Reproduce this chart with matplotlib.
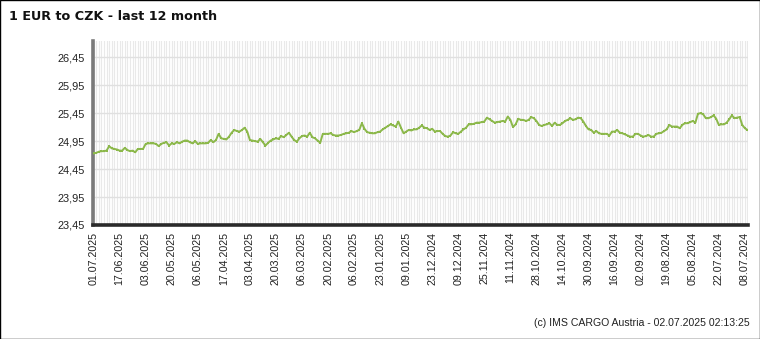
import matplotlib
matplotlib.use("Agg")
import matplotlib.pyplot as plt
from matplotlib.patches import Rectangle
from matplotlib.ticker import FixedLocator, MultipleLocator, FuncFormatter

# newest date on the left, one value per ECB business day
rates = [
    24.73, 24.74, 24.76, 24.77, 24.77, 24.78, 24.86, 24.82, 24.81, 24.80,
    24.78, 24.78, 24.83, 24.79, 24.77, 24.78, 24.75, 24.81, 24.81, 24.81,
    24.90, 24.91, 24.91, 24.91, 24.90, 24.86, 24.90, 24.92, 24.93, 24.87,
    24.91, 24.90, 24.93, 24.91, 24.94, 24.96, 24.96, 24.93, 24.91, 24.95,
    24.90, 24.91, 24.91, 24.91, 24.92, 24.97, 24.93, 24.97, 25.08, 25.00,
    24.99, 24.98, 25.03, 25.10, 25.15, 25.13, 25.12, 25.15, 25.19, 25.12,
    24.97, 24.96, 24.95, 24.94, 24.99, 24.93, 24.87, 24.92, 24.96, 24.98,
    25.00, 24.99, 25.04, 25.02, 25.06, 25.10, 25.03, 24.97, 24.94, 25.00,
    25.04, 25.05, 25.03, 25.10, 25.02, 25.00, 24.96, 24.92, 25.08, 25.08,
    25.08, 25.09, 25.06, 25.05, 25.05, 25.06, 25.08, 25.09, 25.10, 25.13,
    25.11, 25.13, 25.15, 25.27, 25.17, 25.11, 25.10, 25.09, 25.09, 25.11,
    25.12, 25.16, 25.19, 25.22, 25.25, 25.23, 25.21, 25.30, 25.19, 25.09,
    25.12, 25.15, 25.14, 25.16, 25.16, 25.19, 25.23, 25.19, 25.18, 25.15,
    25.17, 25.12, 25.13, 25.13, 25.08, 25.04, 25.03, 25.05, 25.11, 25.09,
    25.08, 25.12, 25.16, 25.19, 25.25, 25.25, 25.26, 25.28, 25.28, 25.29,
    25.30, 25.37, 25.34, 25.31, 25.28, 25.29, 25.30, 25.31, 25.30, 25.39,
    25.33, 25.20, 25.25, 25.35, 25.33, 25.33, 25.31, 25.33, 25.38, 25.36,
    25.31, 25.24, 25.22, 25.24, 25.25, 25.27, 25.22, 25.28, 25.24, 25.24,
    25.27, 25.31, 25.33, 25.36, 25.33, 25.34, 25.37, 25.36, 25.30, 25.22,
    25.16, 25.15, 25.10, 25.13, 25.09, 25.08, 25.08, 25.08, 25.05, 25.12,
    25.12, 25.15, 25.10, 25.09, 25.07, 25.05, 25.03, 25.03, 25.08, 25.08,
    25.05, 25.03, 25.04, 25.06, 25.03, 25.03, 25.08, 25.09, 25.10, 25.13,
    25.16, 25.24, 25.21, 25.21, 25.21, 25.18, 25.24, 25.27, 25.27, 25.29,
    25.31, 25.28, 25.44, 25.45, 25.43, 25.36, 25.36, 25.38, 25.41, 25.35,
    25.24, 25.25, 25.25, 25.28, 25.34, 25.41, 25.36, 25.37, 25.38, 25.24,
    25.18, 25.15,
]

date_labels = [
    "01.07.2025", "17.06.2025", "03.06.2025", "20.05.2025", "06.05.2025",
    "17.04.2025", "03.04.2025", "20.03.2025", "06.03.2025", "20.02.2025",
    "06.02.2025", "23.01.2025", "09.01.2025", "23.12.2024", "09.12.2024",
    "25.11.2024", "11.11.2024", "28.10.2024", "14.10.2024", "30.09.2024",
    "16.09.2024", "02.09.2024", "19.08.2024", "05.08.2024", "22.07.2024",
    "08.07.2024",
]
label_step = 10
y_ticks = [23.45, 23.95, 24.45, 24.95, 25.45, 25.95, 26.45]

title = "1 EUR to CZK - last 12 month"
footer = "(c) IMS CARGO Austria - 02.07.2025 02:13:25"

plt.rcParams["font.family"] = ["Liberation Sans", "DejaVu Sans"]

fig = plt.figure(figsize=(7.6, 3.39), dpi=100)
ax = fig.add_axes([0.1224, 0.3363, 0.8618, 0.5427])

xs = list(range(len(rates)))
ax.plot(xs, rates, color="#8cb84b", linewidth=1.4, marker="s",
        markersize=2.0, markeredgewidth=0, zorder=3)

ax.set_xlim(-0.2, len(rates) - 0.8)
ax.set_ylim(23.45, 26.74)

# one light vertical line per business day, labels every 10 days
ax.xaxis.set_minor_locator(MultipleLocator(1))
ax.xaxis.set_major_locator(FixedLocator([i * label_step for i in range(len(date_labels))]))
ax.set_xticklabels(date_labels, rotation=90, fontsize=7.7, color="#222222")
ax.grid(True, which="both", axis="x", color="#e9e9e9", linewidth=0.8)
ax.grid(True, which="major", axis="y", color="#e0e0e0", linewidth=1.0)

ax.yaxis.set_major_locator(FixedLocator(y_ticks))
ax.yaxis.set_major_formatter(FuncFormatter(lambda v, p: f"{v:.2f}".replace(".", ",")))
ax.tick_params(axis="y", length=0, pad=6, labelsize=7.9, labelcolor="#222222")
ax.tick_params(axis="x", which="both", length=0, pad=5)
ax.set_axisbelow(True)

for side in ("top", "right"):
    ax.spines[side].set_visible(False)
ax.spines["left"].set_color("#7a7a7a")
ax.spines["left"].set_linewidth(2.6)
ax.spines["bottom"].set_color("#2a2a2a")
ax.spines["bottom"].set_linewidth(2.6)

fig.text(9 / 760, 1 - 17 / 339, title, fontsize=9.2, fontweight="bold",
         family="DejaVu Sans", va="center", ha="left", color="#111111")
fig.text(750 / 760, 1 - 323 / 339, footer, fontsize=7.6, va="center",
         ha="right", color="#222222")

fig.patches.append(Rectangle((0, 0), 1, 1, transform=fig.transFigure,
                             fill=False, edgecolor="black", linewidth=1.0))

fig.savefig("out.png", dpi=100)
